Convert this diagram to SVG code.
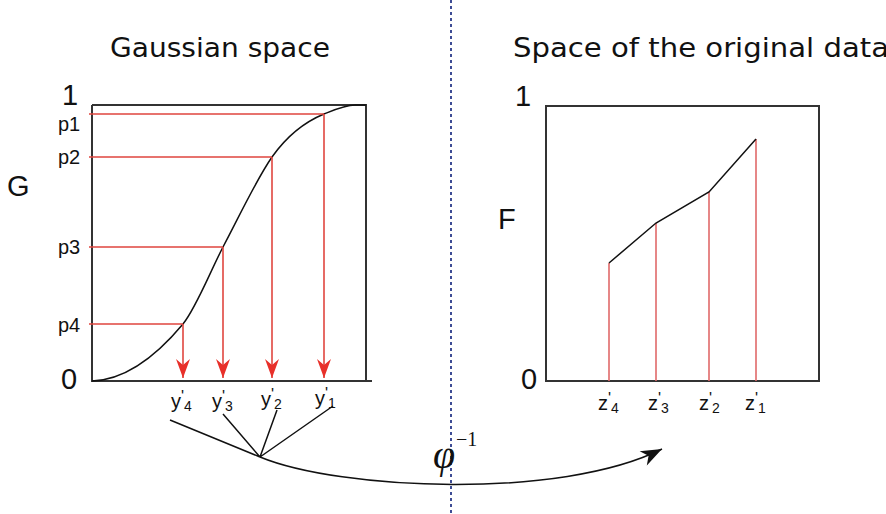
<svg xmlns="http://www.w3.org/2000/svg" width="886" height="514" viewBox="0 0 886 514">
<defs>
<style>
.ax{fill:none;stroke:#333;stroke-width:2}
.red{fill:none;stroke:#e0463f;stroke-width:1.6}
.redl{fill:none;stroke:#e06a6a;stroke-width:1.6}
.blk{fill:none;stroke:#111;stroke-width:1.5}
.big{font-family:"Liberation Sans",Arial,sans-serif;font-size:29px;fill:#111}
.lab{font-family:"Liberation Sans",Arial,sans-serif;font-size:20px;fill:#111}
.sup{font-size:16px}
.sub{font-size:14px}
.title{font-family:"DejaVu Sans",sans-serif;font-size:26px;fill:#111}
</style>
<marker id="ra" viewBox="-20 -8 21 16" refX="0" refY="0" markerWidth="21" markerHeight="16" markerUnits="userSpaceOnUse" orient="auto">
<path d="M0,0 L-19,-7 L-13,0 L-19,7 Z" fill="#e8302a"/>
</marker>
<marker id="ba" viewBox="-22 -9 23 18" refX="0" refY="0" markerWidth="23" markerHeight="18" markerUnits="userSpaceOnUse" orient="auto">
<path d="M0,0 L-21,-8 L-15,0 L-21,8 Z" fill="#111"/>
</marker>
</defs>
<rect width="886" height="514" fill="#fff"/>

<line x1="451" y1="0" x2="451" y2="514" stroke="#2a3a8a" stroke-width="1.8" stroke-dasharray="3,3"/>

<text class="title" x="110" y="57" textLength="220" lengthAdjust="spacingAndGlyphs">Gaussian space</text>
<text class="title" x="513" y="57" textLength="376" lengthAdjust="spacingAndGlyphs">Space of the original data</text>

<g id="gaussian-plot">
<text class="big" x="7" y="196" font-size="36">G</text>
<text class="big" x="62" y="105">1</text>
<text class="big" x="61" y="389">0</text>
<text class="lab" x="58" y="131">p1</text>
<text class="lab" x="58" y="164">p2</text>
<text class="lab" x="58" y="254">p3</text>
<text class="lab" x="58" y="332">p4</text>
<path class="ax" d="M92,105 H366 V381 M92,105 V381 H372"/>
<path class="blk" d="M92,381 C122,380 153,360 183,324 C196,308 210,272 223,247 C239,217 256,180 272,157 C289,133 307,121 324,114 C334,110 345,105 355,105 L366,105"/>
<path class="red" d="M89,114 H324 M89,157 H272 M89,247 H223 M89,324 H183"/>
<line class="red" x1="324" y1="114" x2="324" y2="378" marker-end="url(#ra)"/>
<line class="red" x1="272" y1="157" x2="272" y2="378" marker-end="url(#ra)"/>
<line class="red" x1="223" y1="247" x2="223" y2="378" marker-end="url(#ra)"/>
<line class="red" x1="183" y1="324" x2="183" y2="378" marker-end="url(#ra)"/>
<text class="lab" x="171" y="408">y<tspan class="sup" dy="-6">'</tspan><tspan class="sub" dy="9">4</tspan></text>
<text class="lab" x="212" y="408">y<tspan class="sup" dy="-6">'</tspan><tspan class="sub" dy="9">3</tspan></text>
<text class="lab" x="261" y="406">y<tspan class="sup" dy="-6">'</tspan><tspan class="sub" dy="9">2</tspan></text>
<text class="lab" x="315" y="405">y<tspan class="sup" dy="-6">'</tspan><tspan class="sub" dy="9">1</tspan></text>
</g>

<g id="data-plot">
<text class="big" x="498" y="229" font-size="33">F</text>
<text class="big" x="515" y="106">1</text>
<text class="big" x="521" y="389">0</text>
<rect class="ax" x="546" y="106" width="273" height="275"/>
<path class="redl" d="M609,381 V263 M656,381 V223 M709,381 V192 M756,381 V139"/>
<polyline class="blk" points="609,263 656,223 709,192 756,139"/>
<text class="lab" x="598" y="410">z<tspan class="sup" dy="-6">'</tspan><tspan class="sub" dy="9">4</tspan></text>
<text class="lab" x="648" y="410">z<tspan class="sup" dy="-6">'</tspan><tspan class="sub" dy="9">3</tspan></text>
<text class="lab" x="699" y="410">z<tspan class="sup" dy="-6">'</tspan><tspan class="sub" dy="9">2</tspan></text>
<text class="lab" x="745" y="410">z<tspan class="sup" dy="-6">'</tspan><tspan class="sub" dy="9">1</tspan></text>
</g>

<g id="connectors">
<path class="blk" d="M170,420 L260,457 M223,414 L260,457 M277,410 L260,457 M333,406 L260,457"/>
<path class="blk" d="M260,457 C340,490 560,500 662,449" marker-end="url(#ba)"/>
</g>

<g id="phi-label">
<text x="433" y="468" font-family="Liberation Serif,serif" font-style="italic" font-size="40" fill="#111">φ</text>
<text x="456" y="446" font-family="Liberation Serif,serif" font-size="20" fill="#111">−1</text>
</g>
</svg>
